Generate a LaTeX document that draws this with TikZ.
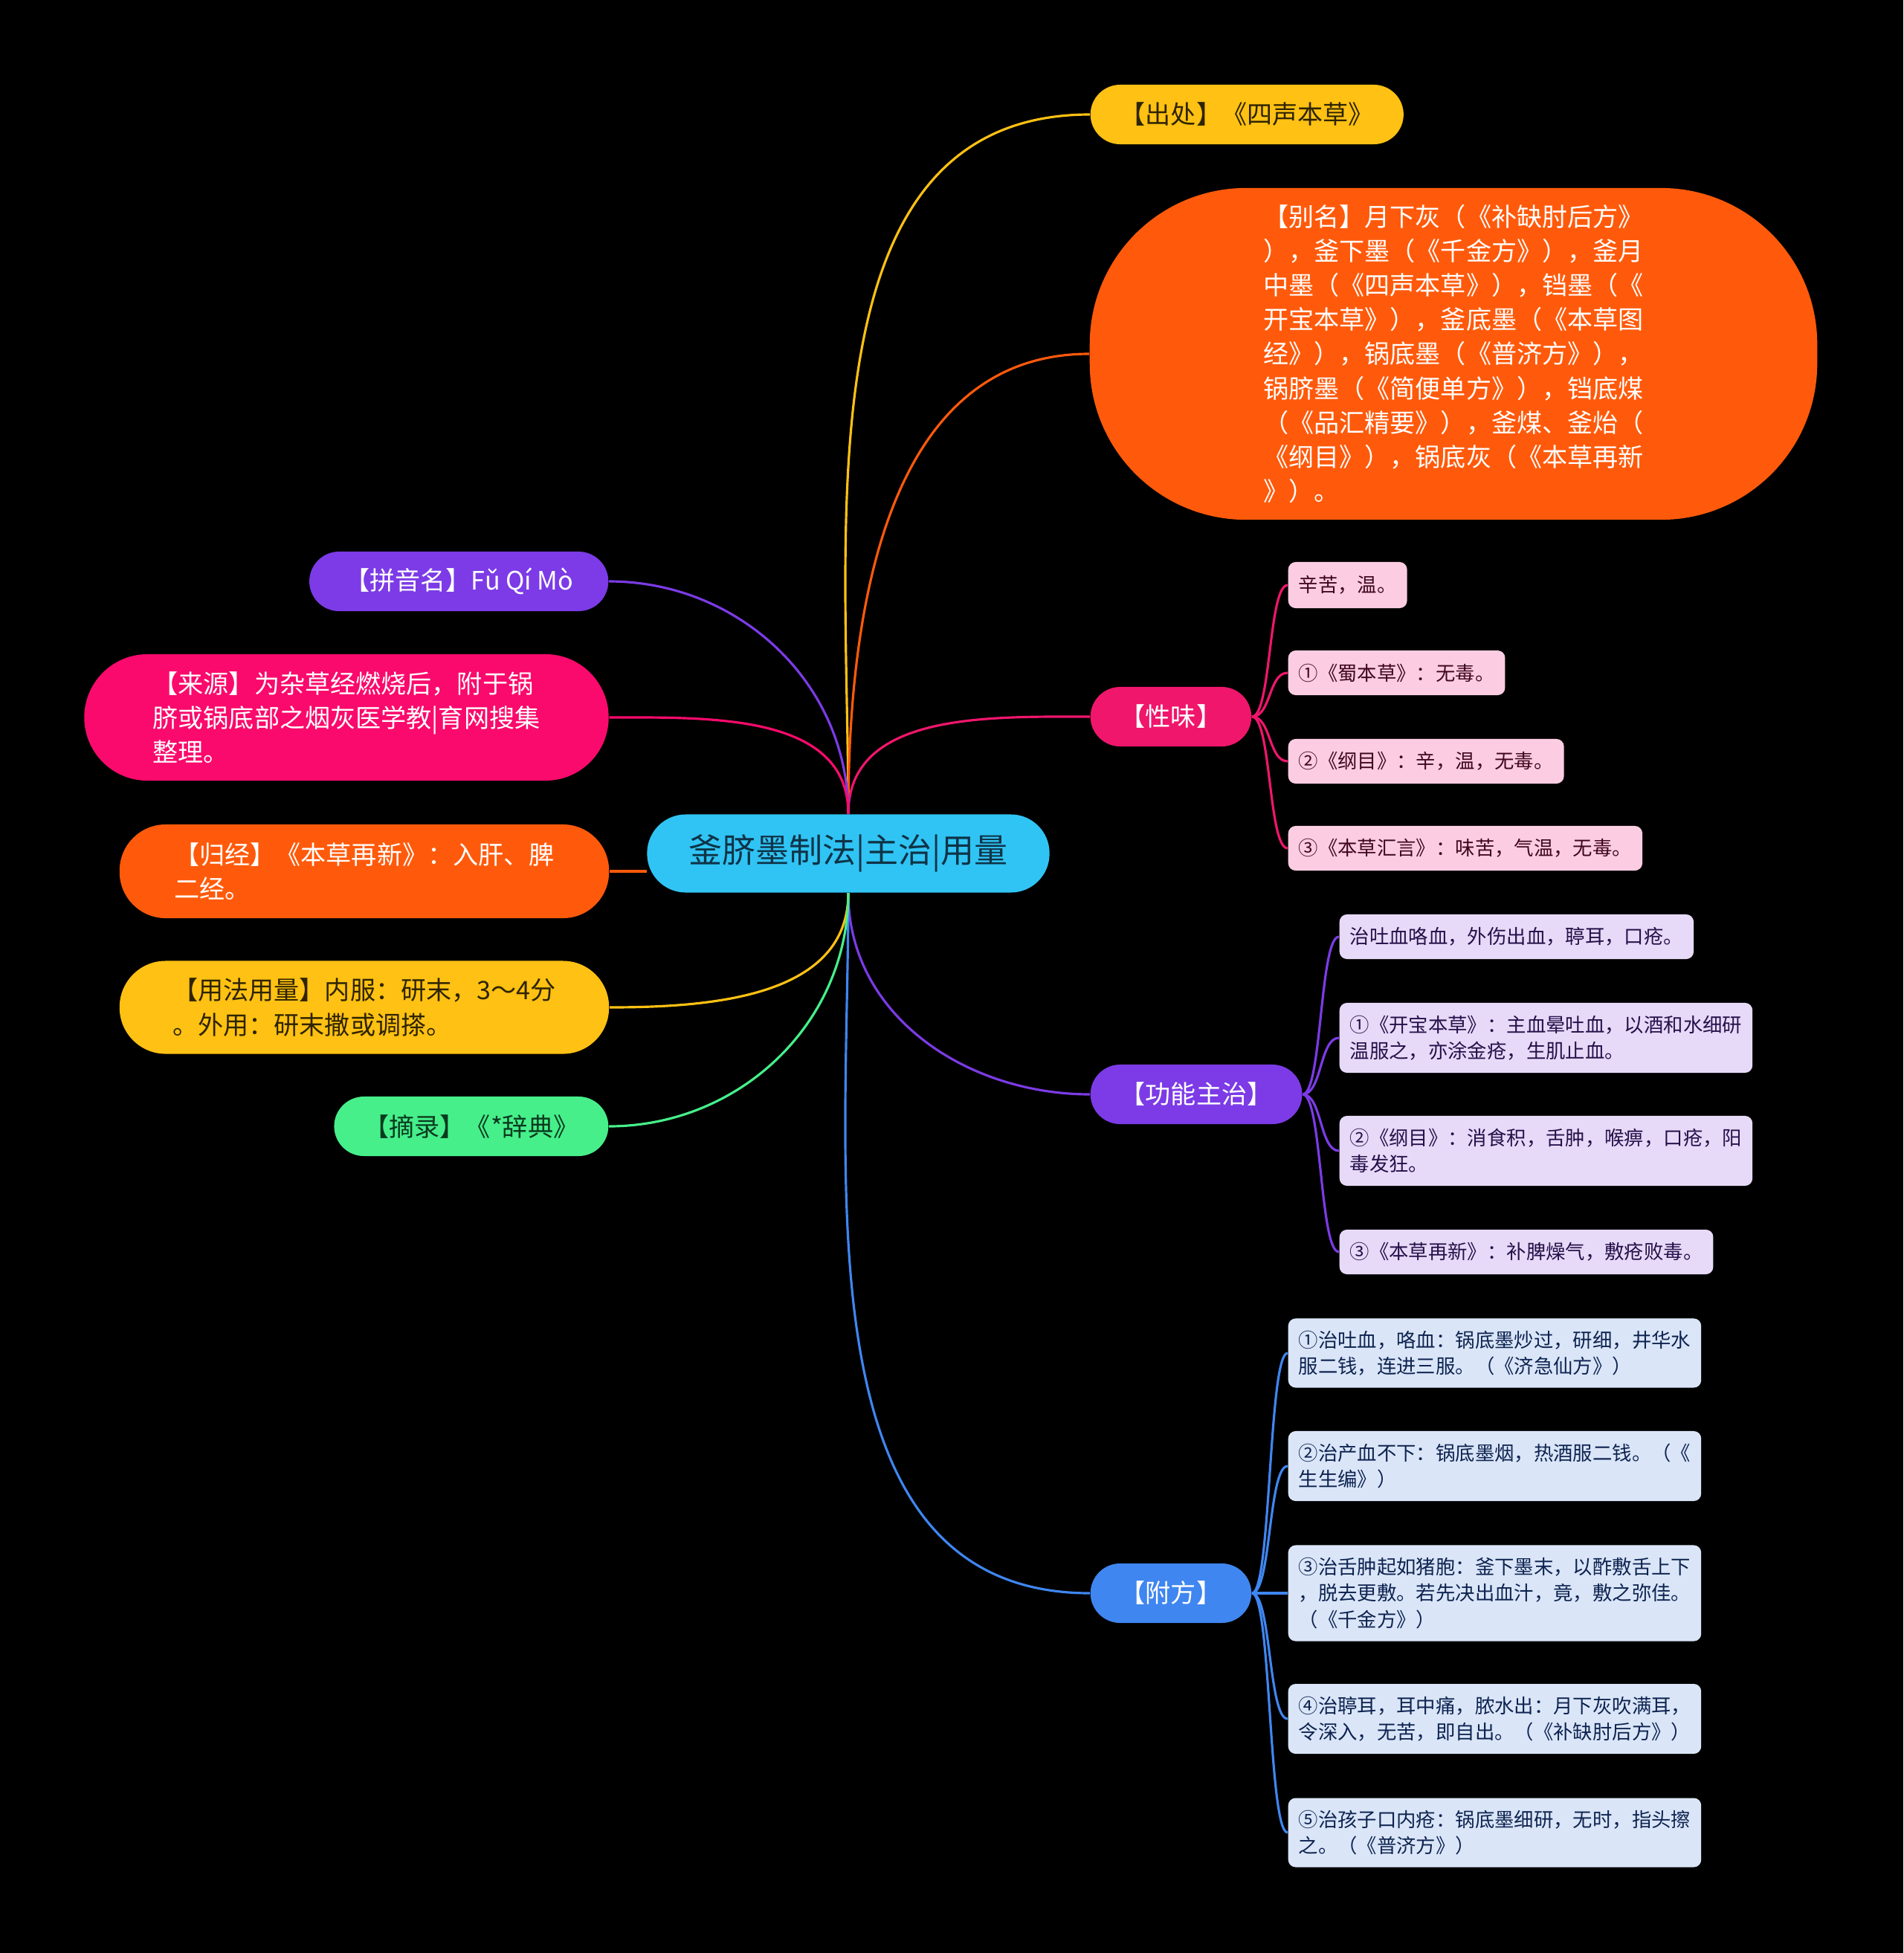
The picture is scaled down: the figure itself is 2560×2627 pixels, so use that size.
\documentclass[tikz,border=0pt]{standalone}
\usepackage{fontspec}
\setmainfont{Noto Sans CJK SC}
\definecolor{cbg}{HTML}{000000}
\definecolor{ccyan}{HTML}{30C4F4}
\definecolor{roottext}{HTML}{0E3347}
\definecolor{cyellow}{HTML}{FFC113}
\definecolor{corange}{HTML}{FF5A0B}
\definecolor{cpink}{HTML}{FA0A6C}
\definecolor{cmagenta}{HTML}{F0166C}
\definecolor{cpurple}{HTML}{7C3BE6}
\definecolor{cgreen}{HTML}{46EF8A}
\definecolor{cblue}{HTML}{3F86F0}
\definecolor{yellowtext}{HTML}{2E2400}
\definecolor{greentext}{HTML}{0B3A1F}
\definecolor{leafpink}{HTML}{FCCDE2}
\definecolor{pinktext}{HTML}{40071F}
\definecolor{leafviolet}{HTML}{E7DAF8}
\definecolor{violettext}{HTML}{26104A}
\definecolor{leafblue}{HTML}{DAE6F8}
\definecolor{bluetext}{HTML}{0E2350}
\tikzset{
  branch/.style={rectangle, rounded corners=0.4cm, minimum height=0.8cm,
    inner xsep=0.4cm, inner ysep=0pt, align=left,
    font=\fontsize{9.7pt}{13.1pt}\selectfont},
  leaf/.style={rectangle, rounded corners=0.1cm, inner xsep=0.14cm,
    inner ysep=0pt, anchor=west, align=left,
    font=\fontsize{7.5pt}{10pt}\selectfont},
  link/.style={line width=0.9pt},
}
\begin{document}
\begin{tikzpicture}[x=0.01cm, y=-0.01cm]
  \fill[cbg] (0,0) rectangle (2560,2627);
  \useasboundingbox (0,0) rectangle (2560,2627);
  % centre
  \node[fill=ccyan, text=roottext, rounded corners=0.52cm, minimum width=5.41cm,
    minimum height=1.05cm, font=\fontsize{12.8pt}{15pt}\selectfont] (root) at (1141,1148) {釜脐墨制法|主治|用量};
  % right side
  \node[branch, fill=cyellow, text=yellowtext, anchor=west] (chuchu) at (1466,154) {【出处】《四声本草》};
  \node[branch, fill=corange, text=white, rounded corners=2.1cm, minimum width=9.78cm,
    minimum height=4.46cm] (bieming) at (1955,476) {【别名】月下灰（《补缺肘后方》\\），釜下墨（《千金方》），釜月\\中墨（《四声本草》），铛墨（《\\开宝本草》），釜底墨（《本草图\\经》），锅底墨（《普济方》），\\锅脐墨（《简便单方》），铛底煤\\（《品汇精要》），釜煤、釜炲（\\《纲目》），锅底灰（《本草再新\\》）。\hspace*{0.26cm}};
  \node[branch, fill=cmagenta, text=white, anchor=west] (xingwei) at (1466,964) {【性味】};
  \node[branch, fill=cpurple, text=white, anchor=west] (gongneng) at (1466,1472) {【功能主治】};
  \node[branch, fill=cblue, text=white, anchor=west] (fufang) at (1466,2143) {【附方】};
  % left side
  \node[branch, fill=cpurple, text=white, anchor=east, minimum width=4.02cm] (pinyin) at (819,782) {【拼音名】Fǔ Qí Mò};
  \node[branch, fill=cpink, text=white, rounded corners=0.85cm, minimum width=7.05cm,
    minimum height=1.7cm] (laiyuan) at (466,965) {【来源】为杂草经燃烧后，附于锅\\脐或锅底部之烟灰医学教|育网搜集\\整理。};
  \node[branch, fill=corange, text=white, rounded corners=0.62cm, minimum width=6.58cm,
    minimum height=1.26cm] (guijing) at (490,1172) {【归经】《本草再新》：入肝、脾\\二经。};
  \node[branch, fill=cyellow, text=yellowtext, rounded corners=0.62cm, minimum width=6.58cm,
    minimum height=1.25cm] (yongfa) at (490,1355) {【用法用量】内服：研末，3～4分\\。外用：研末撒或调搽。};
  \node[branch, fill=cgreen, text=greentext, anchor=east, minimum width=3.68cm] (zhailu) at (819,1515) {【摘录】《*辞典》};
  % leaves
  \node[leaf, fill=leafpink, text=pinktext, minimum height=0.62cm] (xw1) at (1732,787) {辛苦，温。};
  \node[leaf, fill=leafpink, text=pinktext, minimum height=0.6cm] (xw2) at (1732,905) {①《蜀本草》：无毒。};
  \node[leaf, fill=leafpink, text=pinktext, minimum height=0.6cm] (xw3) at (1732,1024) {②《纲目》：辛，温，无毒。};
  \node[leaf, fill=leafpink, text=pinktext, minimum height=0.6cm] (xw4) at (1732,1141) {③《本草汇言》：味苦，气温，无毒。};
  \node[leaf, fill=leafviolet, text=violettext, minimum height=0.6cm] (gn1) at (1801,1260) {治吐血咯血，外伤出血，聤耳，口疮。};
  \node[leaf, fill=leafviolet, text=violettext, minimum height=0.94cm] (gn2) at (1801,1396) {①《开宝本草》：主血晕吐血，以酒和水细研\\温服之，亦涂金疮，生肌止血。};
  \node[leaf, fill=leafviolet, text=violettext, minimum height=0.94cm] (gn3) at (1801,1548) {②《纲目》：消食积，舌肿，喉痹，口疮，阳\\毒发狂。};
  \node[leaf, fill=leafviolet, text=violettext, minimum height=0.6cm] (gn4) at (1801,1684) {③《本草再新》：补脾燥气，敷疮败毒。};
  \node[leaf, fill=leafblue, text=bluetext, minimum height=0.93cm] (ff1) at (1732,1820) {①治吐血，咯血：锅底墨炒过，研细，井华水\\服二钱，连进三服。（《济急仙方》）};
  \node[leaf, fill=leafblue, text=bluetext, minimum height=0.94cm] (ff2) at (1732,1972) {②治产血不下：锅底墨烟，热酒服二钱。（《\\生生编》）};
  \node[leaf, fill=leafblue, text=bluetext, minimum height=1.29cm] (ff3) at (1732,2143) {③治舌肿起如猪胞：釜下墨末，以酢敷舌上下\\，脱去更敷。若先决出血汁，竟，敷之弥佳。\\（《千金方》）};
  \node[leaf, fill=leafblue, text=bluetext, minimum height=0.94cm] (ff4) at (1732,2312) {④治聤耳，耳中痛，脓水出：月下灰吹满耳，\\令深入，无苦，即自出。（《补缺肘后方》）};
  \node[leaf, fill=leafblue, text=bluetext, minimum height=0.93cm] (ff5) at (1732,2465) {⑤治孩子口内疮：锅底墨细研，无时，指头擦\\之。（《普济方》）};
  % main links
  \draw[link, cyellow] (root.north) to[out=90,in=180] (chuchu.west);
  \draw[link, corange] (root.north) to[out=90,in=180] (bieming.west);
  \draw[link, cmagenta] (root.north) to[out=90,in=180] (xingwei.west);
  \draw[link, cpurple] (root.south) to[out=-90,in=180] (gongneng.west);
  \draw[link, cblue] (root.south) to[out=-90,in=180] (fufang.west);
  \draw[link, cpurple] (root.north) to[out=90,in=0] (pinyin.east);
  \draw[link, cpink] (root.north) to[out=90,in=0] (laiyuan.east);
  \draw[link, corange] (guijing.east) -- (guijing.east -| root.west);
  \draw[link, cyellow] (root.south) to[out=-90,in=0] (yongfa.east);
  \draw[link, cgreen] (root.south) to[out=-90,in=0] (zhailu.east);
  % leaf links
  \draw[link, cmagenta] (xingwei.east) .. controls +(26,0) and +(-26,0) .. (xw1.west);
  \draw[link, cmagenta] (xingwei.east) .. controls +(26,0) and +(-26,0) .. (xw2.west);
  \draw[link, cmagenta] (xingwei.east) .. controls +(26,0) and +(-26,0) .. (xw3.west);
  \draw[link, cmagenta] (xingwei.east) .. controls +(26,0) and +(-26,0) .. (xw4.west);
  \draw[link, cpurple] (gongneng.east) .. controls +(26,0) and +(-26,0) .. (gn1.west);
  \draw[link, cpurple] (gongneng.east) .. controls +(26,0) and +(-26,0) .. (gn2.west);
  \draw[link, cpurple] (gongneng.east) .. controls +(26,0) and +(-26,0) .. (gn3.west);
  \draw[link, cpurple] (gongneng.east) .. controls +(26,0) and +(-26,0) .. (gn4.west);
  \draw[link, cblue] (fufang.east) .. controls +(26,0) and +(-26,0) .. (ff1.west);
  \draw[link, cblue] (fufang.east) .. controls +(26,0) and +(-26,0) .. (ff2.west);
  \draw[link, cblue] (fufang.east) .. controls +(26,0) and +(-26,0) .. (ff3.west);
  \draw[link, cblue] (fufang.east) .. controls +(26,0) and +(-26,0) .. (ff4.west);
  \draw[link, cblue] (fufang.east) .. controls +(26,0) and +(-26,0) .. (ff5.west);
\end{tikzpicture}
\end{document}
